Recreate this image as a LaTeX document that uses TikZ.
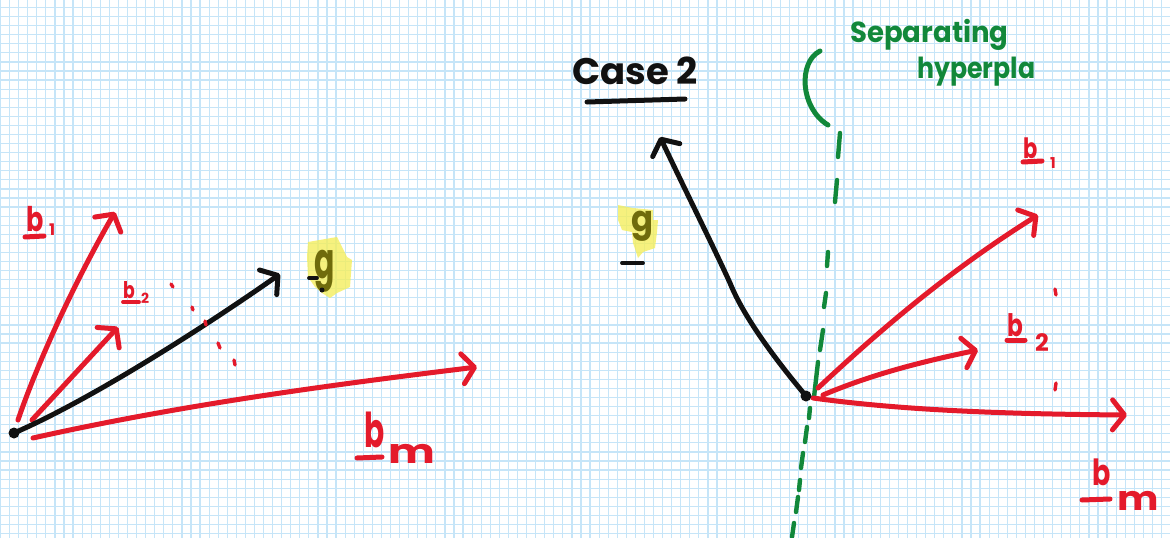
\documentclass[tikz,border=0pt]{standalone}
\usepackage{fontspec}
\setmainfont{Poppins}
\usetikzlibrary{arrows.meta}

\definecolor{gridline}{HTML}{C6E5F8}
\definecolor{inkred}{HTML}{E41A2B}
\definecolor{inkgreen}{HTML}{12883A}
\definecolor{inkblack}{HTML}{111111}
\definecolor{inkolive}{HTML}{6F6B0C}
\definecolor{marker}{HTML}{F4EE5E}

\newcommand{\fs}[1]{\fontsize{#1}{#1}\selectfont\bfseries}
\newcommand{\nb}[1]{\scalebox{0.75}[1]{#1}}

\tikzset{
  pen/.style={line width=5pt, line cap=round, line join=round},
  redpen/.style={pen, draw=inkred},
  blackpen/.style={pen, draw=inkblack},
  greenpen/.style={pen, draw=inkgreen},
  vec/.style={-{Straight Barb[length=12pt,width=30pt,round]}},
  lbl/.style={inner sep=0pt, anchor=base west},
  redlbl/.style={lbl, text=inkred},
  dot/.style={circle, fill=inkblack, inner sep=0pt, minimum size=11pt},
  tick/.style={draw=inkred, line width=3.4pt, line cap=round},
  hilite/.style={fill=marker, fill opacity=0.8, draw=none},
}

\begin{document}
\begin{tikzpicture}[x=1pt,y=-1pt]
\useasboundingbox (0,0) rectangle (1170,538);
\fill[white] (0,0) rectangle (1170,538);

% graph paper
\foreach \k in {0,...,129}
  \draw[gridline, line width=1.2pt] ({0.5+9.07*\k},0) -- ({0.5+9.07*\k},538);
\foreach \k in {0,...,59}
  \draw[gridline, line width=1.2pt] (0,{7.5+9.07*\k}) -- (1170,{7.5+9.07*\k});

% ---------------- left sketch ----------------
\coordinate (oLpos) at (14,433);
\coordinate (b1sL) at (18,420);  \coordinate (b1tL) at (115,212);
\coordinate (b2sL) at (32,420);  \coordinate (b2tL) at (118,327);
\coordinate (bmsL) at (33,438);  \coordinate (bmtL) at (477,367);
\coordinate (gtL)  at (280,274);

\draw[redpen,vec] (b1sL) .. controls (35,370) and (70,290) .. (b1tL);
\draw[redpen,vec] (b2sL) -- (b2tL);
\draw[redpen,vec] (bmsL) .. controls (180,405) and (330,385) .. (bmtL);
\node[dot] (oL) at (oLpos) {};
\draw[blackpen,vec] (oL.center) .. controls (90,400) and (200,330) .. (gtL);

% dots between b2 and bm
\foreach \a/\b/\c/\d in {171/284/173/287, 192/307/193/310, 205/321/206/325,
                          218/343/220/348, 234/360/235/365}
  \draw[tick] (\a,\b) -- (\c,\d);

% labels
\node[redlbl, font=\fs{34}] (lb1L) at (26,231) {\nb{b}};
\node[redlbl, font=\fs{16}] (lb1Lsub) at (49,235) {1};
\draw[redpen] (25,237) -- (44,236);

\node[redlbl, font=\fs{23}] (lb2L) at (123,298) {\nb{b}};
\node[redlbl, font=\fs{14}] (lb2Lsub) at (141,303) {2};
\draw[redpen, line width=3.8pt] (123,302) -- (139,302);

\node[redlbl, font=\fs{48}] (lbmL) at (364,447) {\scalebox{0.62}[1]{b}};
\node[redlbl, font=\fs{34}] (lbmLsub) at (388,463) {\scalebox{1.3}[1]{m}};
\draw[redpen] (357,458) -- (382,457);

% g label with marker highlight
\fill[hilite] (308,242) -- (337,237) -- (342,247) -- (347,257) -- (352,260)
  -- (350,287) -- (337,293) -- (330,298) -- (322,293) -- (315,287)
  -- (308,277) -- (307,257) -- cycle;
\node[lbl, text=inkolive, font=\fs{50}] (lgL) at (314,278) {\scalebox{0.6}[1]{g}};
\draw[blackpen, line width=3.8pt] (309,278) -- (317,278);
\fill[inkblack] (322,290) circle (2.5pt);

% ---------------- right sketch ----------------
\node[lbl, text=inkblack, font=\fs{37}] (case) at (572,84) {Case 2};
\draw[blackpen] (587,102) -- (685,99);

% separating hyperplane
\node[lbl, text=inkgreen, font=\fs{29}] (sep1) at (850,42) {\scalebox{0.95}[1]{Separating}};
\node[lbl, text=inkgreen, font=\fs{29}] (sep2) at (917,78) {\scalebox{0.87}[1]{hyperpla}};
\draw[greenpen] (820,51) .. controls (798,62) and (800,108) .. (828,125);
\foreach \a/\b/\c/\d in {840/133/838/157, 837/180/835/202, 828/252/827/266,
                          826/293/824/307, 823/330/820/350, 818/362/814/397,
                          810/408/809/418, 807/427/805/442, 803/453/801/468,
                          800/480/799/490, 798/497/796/512, 794/523/792/537}
  \draw[greenpen, line width=4.4pt] (\a,\b) -- (\c,\d);

\coordinate (oRpos) at (806,396);
\coordinate (b1sR) at (818,388);  \coordinate (b1tR) at (1038,215);
\coordinate (b2sR) at (823,395);  \coordinate (b2tR) at (978,350);
\coordinate (bmsR) at (813,398);  \coordinate (bmtR) at (1127,415);
\coordinate (gmR)  at (730,283);  \coordinate (gtR)  at (660,137);

\draw[redpen,vec] (b1sR) .. controls (880,330) and (950,270) .. (b1tR);
\draw[redpen,vec] (b2sR) .. controls (870,375) and (920,362) .. (b2tR);
\draw[redpen,vec] (bmsR) .. controls (900,410) and (1000,414) .. (bmtR);
\node[dot] (oR) at (oRpos) {};
\draw[blackpen,vec] (oR.center) .. controls (780,365) and (745,320) .. (gmR)
  .. controls (715,250) and (690,200) .. (gtR);

\draw[tick] (1055,289) -- (1056,295);
\draw[tick] (1056,383) -- (1055,390);

\node[redlbl, font=\fs{28}] (lb1R) at (1023,158) {\nb{b}};
\node[redlbl, font=\fs{15}] (lb1Rsub) at (1050,168) {1};
\draw[redpen] (1023,162) -- (1042,161);

\node[redlbl, font=\fs{31}] (lb2R) at (1007,336) {\nb{b}};
\node[redlbl, font=\fs{24}] (lb2Rsub) at (1035,351) {2};
\draw[redpen] (1007,340) -- (1025,340);

\node[redlbl, font=\fs{36}] (lbmR) at (1092,485) {\nb{b}};
\node[redlbl, font=\fs{34}] (lbmRsub) at (1117,510) {\scalebox{1.15}[1]{m}};
\draw[redpen] (1082,500) -- (1110,499);

\fill[hilite] (618,205) -- (633,208) -- (653,210) -- (653,220) -- (658,220)
  -- (657,232) -- (655,248) -- (643,252) -- (638,258) -- (633,243)
  -- (632,232) -- (622,230) -- (618,220) -- cycle;
\node[lbl, text=inkolive, font=\fs{36}] (lgR) at (631,231) {\scalebox{0.9}[1]{g}};
\draw[blackpen, line width=3.8pt] (622,263) -- (643,263);
\end{tikzpicture}
\end{document}
